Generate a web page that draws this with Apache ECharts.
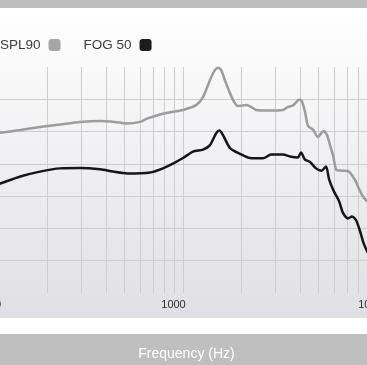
<!DOCTYPE html>
<html>
<head>
<meta charset="utf-8">
<script src="https://cdn.jsdelivr.net/npm/echarts@6/dist/echarts.min.js"></script>
<style>
html,body{margin:0;padding:0;background:#fff;}
#chart{width:367px;height:365px;}
</style>
</head>
<body>
<div id="chart"></div>
<script>
// Frequency (Hz) and level (dB)
const splFreq = [100,114,145,183,232,295,374,446,515,600,652,761,878,1000,1167,1268,1378,1462,1515,1570,1666,1810,1921,2112,2215,2379,2809,3278,3437,3690,3986,4106,4255,4410,4679,4965,5300,5525,5725,5933,6182,6600,7087,7702,8174,8570,8882,9500];
const splVal  = [99.1,99.6,100.5,101.4,102.2,103.0,103.3,103.0,102.5,103.0,104.0,105.3,106.1,106.7,108.2,110.7,116.0,119.1,119.8,119.1,115.0,109.8,107.9,108.2,107.8,106.7,106.5,106.7,107.5,108.1,109.9,109.3,106.1,101.7,100.6,98.3,100.2,98.9,95.8,92.7,88.1,87.9,87.8,85.0,81.6,79.4,78.5,75.0];

const fogFreq = [100,114,145,183,232,295,374,436,515,676,789,888,1000,1126,1268,1378,1480,1542,1608,1747,1967,2215,2585,2842,3278,3561,3915,4057,4255,4516,4849,5175,5460,5658,6002,6369,6678,7087,7432,7795,8174,8520,8882,9500];
const fogVal  = [82.8,83.9,86.1,87.6,88.6,88.7,88.3,87.6,87.0,87.3,88.6,90.1,91.8,93.8,94.4,95.8,99.4,100.3,98.9,94.9,93.1,91.8,91.7,92.9,92.9,92.3,92.0,93.5,91.3,90.6,88.6,87.9,89.2,85.3,81.4,78.5,74.8,73.1,73.7,72.6,69.2,65.5,63.0,60.0];

const seriesNames = ['SPL90', 'FOG 50'];
const minorGridFreqs = [200,300,400,500,600,700,800,900,2000,3000,4000,5000,6000,7000,8000,9000];
const xTickLabels = ['100', '1000', '10000'];
const xAxisTitle = 'Frequency (Hz)';

const zip = (a, b) => a.map((v, i) => [v, b[i]]);

const chart = echarts.init(document.getElementById('chart'), null, {renderer: 'canvas'});
const FONT = '"Liberation Sans", Arial, Helvetica, sans-serif';

chart.setOption({
  animation: false,
  backgroundColor: '#ffffff',
  graphic: [
    {type: 'rect', z: -100, shape: {x: 0, y: 0, width: 367, height: 8}, style: {fill: '#bdbdbd'}},
    {type: 'rect', z: -100, shape: {x: 0, y: 8, width: 367, height: 310},
      style: {fill: new echarts.graphic.LinearGradient(0, 0, 0, 1, [
        {offset: 0, color: '#ffffff'}, {offset: 1, color: '#e0e0e4'}])}},
    {type: 'rect', z: -100, shape: {x: 0, y: 334, width: 367, height: 31}, style: {fill: '#bfbfbf'}}
  ],
  legend: {
    left: 0, top: 38, padding: 0,
    align: 'right',
    icon: 'roundRect',
    itemWidth: 12, itemHeight: 12, itemGap: 23,
    textStyle: {fontFamily: FONT, fontSize: 13.5, color: '#3c3c3c', padding: [0, 3, 0, 0]},
    data: seriesNames
  },
  grid: {left: -11, right: -10, top: 67, bottom: 72, outerBoundsMode: 'none', containLabel: false},
  xAxis: {
    type: 'log', logBase: 10, min: 100, max: 10000,
    axisLine: {show: false}, axisTick: {show: false},
    splitLine: {show: true, lineStyle: {color: '#cdcdd0', width: 1}},
    axisLabel: {
      margin: 6,
      fontFamily: FONT, fontSize: 11, color: '#2e2e2e',
      formatter: function (v) {
        const s = String(Math.round(v));
        const idx = xTickLabels.indexOf(s);
        return idx < 0 ? '' : '{l' + idx + '|' + s + '}';
      },
      rich: {
        l0: {fontFamily: FONT, fontSize: 11, color: '#2e2e2e', padding: [0, 0, 0, 6]},
        l1: {fontFamily: FONT, fontSize: 11, color: '#2e2e2e', padding: [0, 19, 0, 0]},
        l2: {fontFamily: FONT, fontSize: 11, color: '#2e2e2e', padding: [0, 7, 0, 0]}
      }
    },
    name: xAxisTitle,
    nameLocation: 'middle',
    nameGap: 54,
    nameTextStyle: {fontFamily: FONT, fontSize: 14, color: '#ffffff', padding: [0, 0, 0, 7]}
  },
  yAxis: {
    type: 'value', min: 50, max: 120, interval: 10,
    axisLine: {show: false}, axisTick: {show: false}, axisLabel: {show: false},
    splitLine: {show: true, showMinLine: false, showMaxLine: false, lineStyle: {color: '#cdcdd0', width: 1}}
  },
  series: [
    {
      name: 'grid', type: 'line', data: [], silent: true, z: 1,
      markLine: {
        silent: true, z: 1, symbol: ['none', 'none'], animation: false,
        label: {show: false},
        lineStyle: {color: '#cdcdd0', width: 1, type: 'solid'},
        emphasis: {disabled: true},
        data: minorGridFreqs.map(f => ({xAxis: f}))
      }
    },
    {
      name: seriesNames[0], type: 'line', z: 3,
      data: zip(splFreq, splVal),
      showSymbol: false, symbol: 'none', smooth: 0.25,
      itemStyle: {color: '#a6a6a6'},
      lineStyle: {color: '#9c9c9c', width: 2.5}
    },
    {
      name: seriesNames[1], type: 'line', z: 4,
      data: zip(fogFreq, fogVal),
      showSymbol: false, symbol: 'none', smooth: 0.25,
      itemStyle: {color: '#1c1c1c'},
      lineStyle: {color: '#161616', width: 2.5}
    }
  ]
});
</script>
</body>
</html>
